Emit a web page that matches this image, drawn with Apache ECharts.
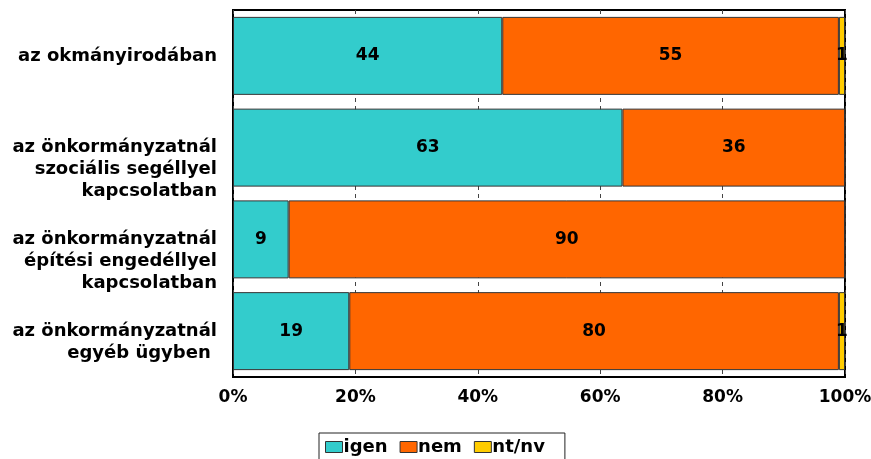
<!DOCTYPE html>
<html>
<head>
<meta charset="utf-8">
<script src="https://cdn.jsdelivr.net/npm/echarts@6/dist/echarts.min.js"></script>
<style>
  html, body { margin: 0; padding: 0; background: #fff; }
  #chart { width: 871px; height: 459px; }
</style>
</head>
<body>
<div id="chart"></div>
<script>
// Survey answers per office type (counts in percent, shown as 100% stacked bars)
const categories = [
  'az okmányirodában',
  'az önkormányzatnál\nszociális segéllyel\nkapcsolatban',
  'az önkormányzatnál\népítési engedéllyel\nkapcsolatban',
  'az önkormányzatnál\negyéb ügyben '
];
const seriesNames = ['igen', 'nem', 'nt/nv'];
const igen = [44, 63, 9, 19];
const nem = [55, 36, 90, 80];
const ntnv = [1, 0, 0, 1];
const xTickValues = [0, 20, 40, 60, 80, 100];

const colors = ['#33CCCC', '#FF6600', '#FFCC00'];
const FONT = 'DejaVu Sans';

const rows = [igen, nem, ntnv];
const totals = categories.map((_, i) => igen[i] + nem[i] + ntnv[i]);

// each bar segment is its share of the row total; the label keeps the answer value
const series = rows.map((vals, s) => ({
  name: seriesNames[s],
  type: 'bar',
  stack: 'all',
  barCategoryGap: '15%',
  itemStyle: { color: colors[s], borderColor: '#333', borderWidth: 1 },
  label: {
    show: true,
    position: 'inside',
    color: '#000',
    fontFamily: FONT,
    fontWeight: 'bold',
    fontSize: 17,
    formatter: p => (p.data.raw ? String(p.data.raw) : '')
  },
  data: vals.map((v, i) => ({ value: v / totals[i] * 100, raw: v }))
}));

const chart = echarts.init(document.getElementById('chart'));
chart.setOption({
  animation: false,
  backgroundColor: '#fff',
  grid: {
    left: 233, right: 26, top: 10, bottom: 82,
    outerBoundsMode: 'none',
    show: true, borderColor: '#000', borderWidth: 2, backgroundColor: 'transparent'
  },
  legend: {
    data: seriesNames,
    left: 319,
    top: 433,
    orient: 'horizontal',
    itemWidth: 17,
    itemHeight: 11,
    itemGap: 12,
    padding: [5, 20, 10, 6],
    borderColor: '#222',
    borderWidth: 1,
    icon: 'rect',
    itemStyle: { borderColor: '#333', borderWidth: 1 },
    textStyle: { color: '#000', fontFamily: FONT, fontWeight: 'bold', fontSize: 18, padding: [0, 0, 0, -4] }
  },
  xAxis: {
    type: 'value',
    min: xTickValues[0],
    max: xTickValues[xTickValues.length - 1],
    interval: xTickValues[1] - xTickValues[0],
    axisLine: { show: false },
    axisTick: { show: false },
    splitLine: { show: true, lineStyle: { color: '#444', width: 1, type: [4, 4] } },
    axisLabel: {
      color: '#000', fontFamily: FONT, fontWeight: 'bold', fontSize: 17, margin: 12,
      formatter: '{value}%'
    }
  },
  yAxis: {
    type: 'category',
    inverse: true,
    data: categories,
    axisLine: { show: false },
    axisTick: { show: false },
    axisLabel: {
      interval: 0,
      color: '#000', fontFamily: FONT, fontWeight: 'bold', fontSize: 18,
      lineHeight: 22, align: 'right', verticalAlign: 'top',
      padding: [-11, 0, 0, 0],
      margin: 16
    }
  },
  series: series
});
</script>
</body>
</html>
